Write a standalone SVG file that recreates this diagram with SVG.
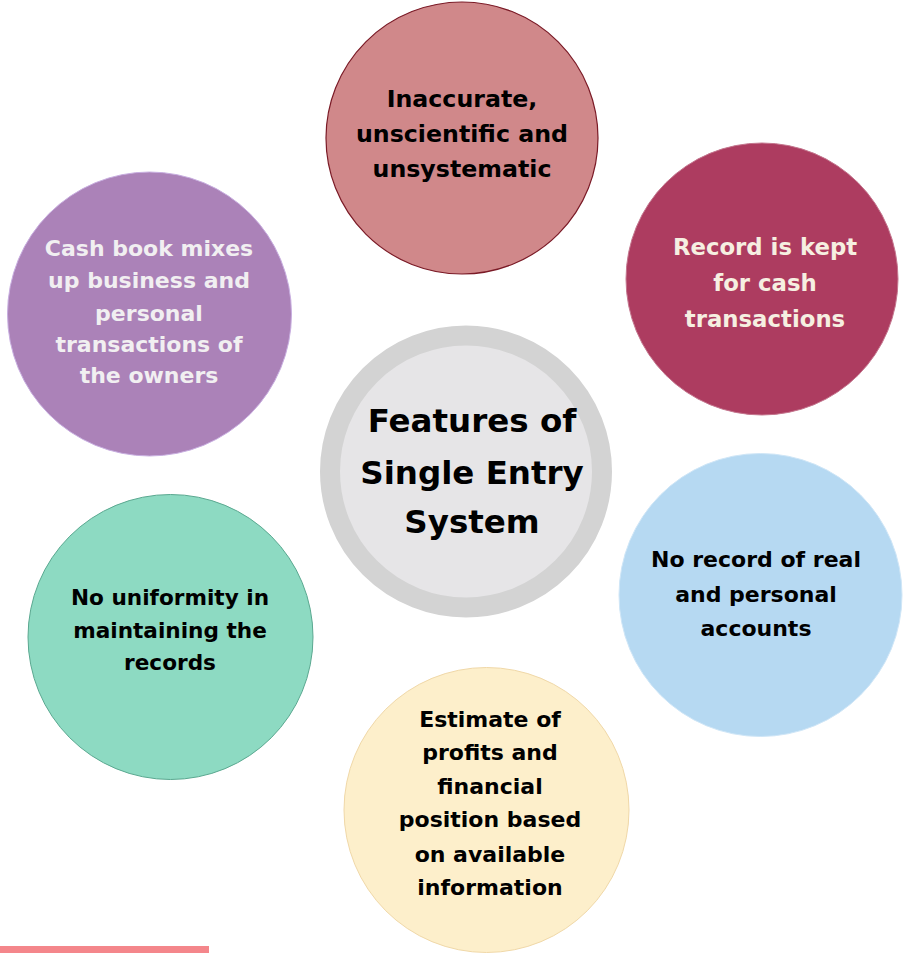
<svg xmlns="http://www.w3.org/2000/svg" width="903" height="953" viewBox="0 0 903 953">
<style>
text{font-family:"DejaVu Sans","Liberation Sans",sans-serif;font-weight:700;text-anchor:middle;font-size:22px;fill:#000}
.lt{fill:#f1eff1}
.cr{fill:#f6efe1}
.big{font-size:32.5px}
.t1{font-size:23.7px}
.t2{font-size:22.8px}
.t5{font-size:21.6px}
</style>
<rect width="903" height="953" fill="#ffffff"/>
<g id="connectors"></g>
<g id="n-top">
<circle cx="462" cy="138" r="136" fill="#d0888a" stroke="#7a1a26" stroke-width="1.2"/>
<text class="t1" x="462" y="107">Inaccurate,</text>
<text class="t1" x="462" y="142">unscientific and</text>
<text class="t1" x="462" y="177">unsystematic</text>
</g>
<g id="n-right-top">
<circle cx="762" cy="279" r="136" fill="#ad3c60" stroke="#c4768e" stroke-width="1"/>
<text class="cr t2" x="765" y="255">Record is kept</text>
<text class="cr t2" x="765" y="291">for cash</text>
<text class="cr t2" x="765" y="327">transactions</text>
</g>
<g id="n-left">
<circle cx="149.5" cy="314" r="142" fill="#ab82b8" stroke="#c8aee0" stroke-width="1"/>
<text class="lt" x="149" y="256">Cash book mixes</text>
<text class="lt" x="149" y="288">up business and</text>
<text class="lt" x="149" y="321">personal</text>
<text class="lt" x="149" y="352">transactions of</text>
<text class="lt" x="149" y="383">the owners</text>
</g>
<g id="n-center">
<circle cx="466" cy="471.5" r="136" fill="#e6e5e7" stroke="#d3d3d3" stroke-width="20"/>
<text class="big" x="472" y="432">Features of</text>
<text class="big" x="472" y="484">Single Entry</text>
<text class="big" x="472" y="533">System</text>
</g>
<g id="n-right-bottom">
<circle cx="760.5" cy="595" r="141.5" fill="#b6d9f2" stroke="#cfe6f7" stroke-width="1"/>
<text x="756" y="567">No record of real</text>
<text x="756" y="602">and personal</text>
<text x="756" y="636">accounts</text>
</g>
<g id="n-left-bottom">
<circle cx="170.5" cy="637" r="142.5" fill="#8ddac2" stroke="#5aa890" stroke-width="1"/>
<text class="t5" x="170" y="605">No uniformity in</text>
<text class="t5" x="170" y="638">maintaining the</text>
<text class="t5" x="170" y="670">records</text>
</g>
<g id="n-bottom">
<circle cx="486.5" cy="810" r="142.5" fill="#fdefcb" stroke="#f0d8a8" stroke-width="1"/>
<text x="490" y="727">Estimate of</text>
<text x="490" y="760">profits and</text>
<text x="490" y="794">financial</text>
<text x="490" y="827">position based</text>
<text x="490" y="862">on available</text>
<text x="490" y="895">information</text>
</g>
<rect x="0" y="946" width="209" height="7" fill="#f4868b"/>
</svg>
